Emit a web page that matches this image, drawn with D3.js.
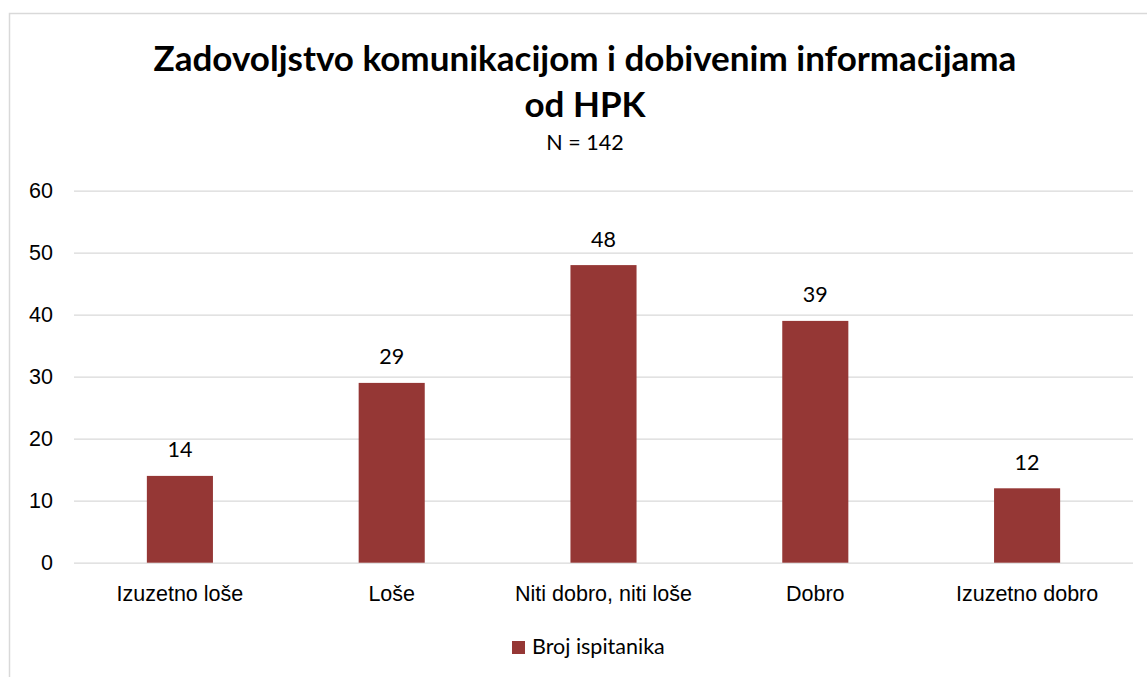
<!DOCTYPE html>
<html lang="hr">
<meta charset="utf-8"/>
<head>
<style>
	body { margin: 0; background: #FFFFFF; }
	svg { display: block; font-family: Lato, "Noto Sans", sans-serif; }
	.grid line { stroke: #D9D9D9; stroke-width: 1.3; }
	.grid .domain { display: none; }
	.axis text { fill: #000; }
</style>
</head>
<body>
<svg width="1147" height="677"></svg>

<script src="https://d3js.org/d3.v7.min.js"></script>
<script>
// podaci
let categories = ["Izuzetno loše", "Loše", "Niti dobro, niti loše", "Dobro", "Izuzetno dobro"]
let values = [14, 29, 48, 39, 12]
let yTicks = [0, 10, 20, 30, 40, 50, 60]
let seriesName = "Broj ispitanika"
let titleLines = ["Zadovoljstvo komunikacijom i dobivenim informacijama", "od HPK"]
let subtitle = "N = 142"

let svg = d3.select("svg")
let barColor = "#953735"
let centerX = 585
let fs = "21.5px"

// okvir grafikona
svg.append("rect")
	.attr("x", 9.5).attr("y", 13.5)
	.attr("width", 1200).attr("height", 700)
	.attr("fill", "white")
	.attr("stroke", "#D9D9D9")
	.attr("stroke-width", 1.5)

let xScale = d3.scaleBand()
	.domain(categories)
	.range([74, 1133])
	.paddingInner(0.688)
	.paddingOuter(0.344)

let yScale = d3.scaleLinear()
	.domain([0, 60])
	.range([562.7, 190.7])

// mreža
svg.append("g")
	.attr("class", "grid")
	.attr("transform", "translate(74,0)")
	.call(d3.axisRight(yScale).tickValues(yTicks).tickSize(1133 - 74).tickFormat(""))

// y os
let yAxis = svg.append("g")
	.attr("class", "axis")
	.attr("transform", "translate(53,0)")
	.call(d3.axisLeft(yScale).tickValues(yTicks).tickSize(0).tickPadding(0))
yAxis.select(".domain").remove()
yAxis.selectAll("text").style("font-size", fs)

// stupci
svg.selectAll(".bar")
	.data(values)
	.enter()
	.append("rect")
	.attr("class", "bar")
	.attr("x", (d, i) => xScale(categories[i]))
	.attr("y", d => yScale(d))
	.attr("width", xScale.bandwidth())
	.attr("height", d => yScale(0) - yScale(d))
	.attr("fill", barColor)

// oznake vrijednosti
svg.selectAll(".label")
	.data(values)
	.enter()
	.append("text")
	.attr("class", "label")
	.attr("x", (d, i) => xScale(categories[i]) + xScale.bandwidth() / 2)
	.attr("y", d => yScale(d) - 18.5)
	.attr("text-anchor", "middle")
	.style("font-size", fs)
	.text(d => d)

// x os
let xAxis = svg.append("g")
	.attr("class", "axis")
	.attr("transform", "translate(0,563)")
	.call(d3.axisBottom(xScale).tickSize(0).tickPadding(0))
xAxis.select(".domain").remove()
xAxis.selectAll("text")
	.attr("dy", null)
	.attr("y", 38)
	.style("font-size", fs)

// naslov
svg.selectAll(".title")
	.data(titleLines)
	.enter()
	.append("text")
	.attr("class", "title")
	.attr("x", centerX)
	.attr("y", (d, i) => 71 + i * 46)
	.attr("text-anchor", "middle")
	.style("font-size", "35px")
	.style("font-weight", "bold")
	.text(d => d)

svg.append("text")
	.attr("x", centerX)
	.attr("y", 150)
	.attr("text-anchor", "middle")
	.style("font-size", fs)
	.text(subtitle)

// legenda
let legend = svg.append("g").attr("transform", "translate(512,641)")
legend.append("rect")
	.attr("width", 13).attr("height", 13)
	.attr("fill", barColor)
legend.append("text")
	.attr("x", 20).attr("y", 13)
	.style("font-size", fs)
	.text(seriesName)
</script>
</body>
</html>
